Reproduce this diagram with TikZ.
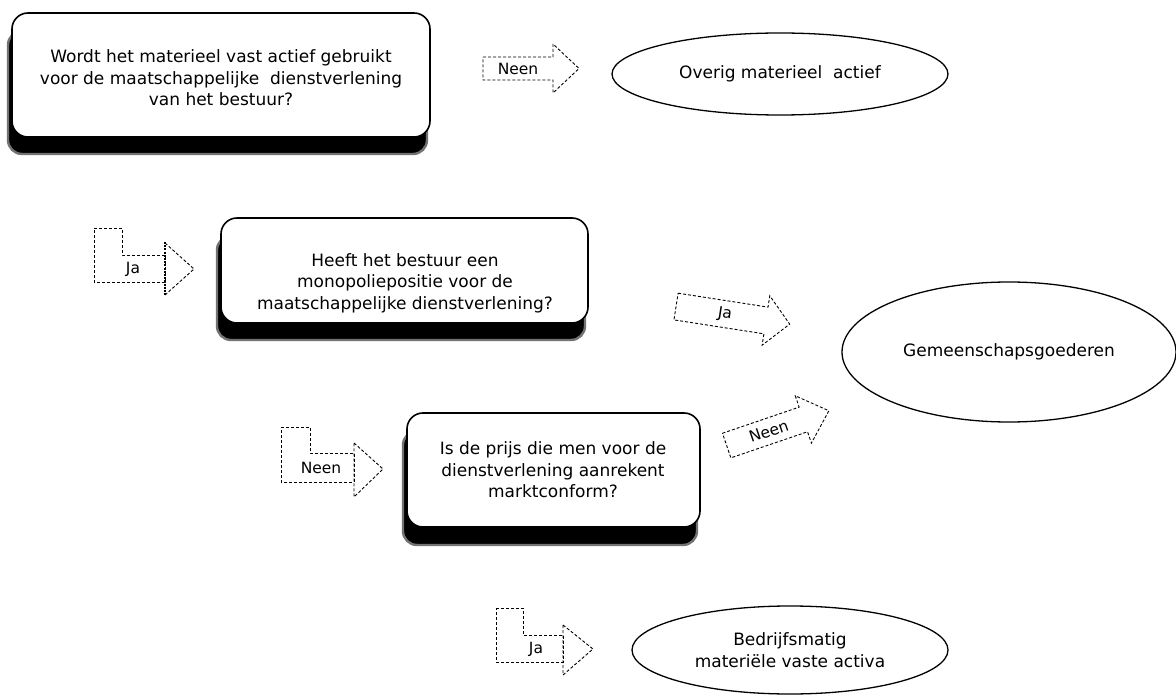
\documentclass[tikz,border=0pt]{standalone}
\usepackage{fontspec}
\setmainfont{DejaVu Sans}
\usetikzlibrary{shapes.geometric}
\begin{document}
\begin{tikzpicture}[x=1pt,y=-1pt,
  qbox/.style={draw, line width=1.6pt, rounded corners=16pt, fill=white},
  shade/.style={fill=black, draw=black!55, line width=2.4pt, rounded corners=14pt},
  oval/.style={draw, line width=1.3pt, ellipse, inner sep=0pt},
  barrow/.style={draw, line width=0.9pt, dash pattern=on 3pt off 2pt, line join=miter},
  txt/.style={font=\fontsize{17}{21.5}\selectfont, align=center, inner sep=0pt},
  lbl/.style={font=\fontsize{15.5}{18}\selectfont, inner sep=0pt},
]
\useasboundingbox (0,0) rectangle (1176,695);

% ---------- question box 1
\path[shade] (8,31) rectangle (427,154);
\draw[qbox] (12,13) rectangle (430,137);
\node[txt] (q1) at (221,78) {Wordt het materieel vast actief gebruikt\\voor de maatschappelijke\ \ dienstverlening\\van het bestuur?};

% Neen arrow 1
\draw[barrow] (483,57) -- (553,57) -- (553,44) -- (579,68.5) -- (553,93) -- (553,80) -- (483,80) -- cycle;
\node[lbl] (n1) at (518,68.5) {Neen};

% ellipse 1
\node[oval, minimum width=336pt, minimum height=82pt, font=\fontsize{17}{21.5}\selectfont] (e1) at (780,74) {Overig materieel\ \ actief};

% ---------- Ja L-arrow 1
\draw[barrow] (94,228) -- (122,228) -- (122,255) -- (165,255) -- (165,282) -- (94,282) -- cycle;
\draw[barrow] (165,243) -- (194,269) -- (165,295);
\draw[line width=2.2pt, dash pattern=on 2pt off 1.2pt] (165,242) -- (165,296);
\node[lbl] (j1) at (133,269) {Ja};

% question box 2
\path[shade] (217,236) rectangle (585,340);
\draw[qbox] (221,218) rectangle (588,323);
\node[txt] (q2) at (405,283) {Heeft het bestuur een\\monopoliepositie voor de\\maatschappelijke dienstverlening?};

% Ja diagonal arrow
\begin{scope}[shift={(721,313.5)}, rotate=-8.8]
\draw[barrow] (-45.5,-13.5) -- (45.5,-13.5) -- (45.5,-25) -- (69.5,0) -- (45.5,25) -- (45.5,13.5) -- (-45.5,13.5) -- cycle;
\node[lbl, transform shape] (j2) at (4,0) {Ja};
\end{scope}

% ellipse 2
\node[oval, minimum width=334pt, minimum height=140pt, font=\fontsize{17}{21.5}\selectfont] (e2) at (1009,352) {Gemeenschapsgoederen};

% ---------- Neen L-arrow
\draw[barrow] (281,427) -- (310,427) -- (310,453) -- (354,453) -- (354,482) -- (281,482) -- cycle;
\draw[barrow] (354,443) -- (383,469) -- (354,497) -- cycle;
\node[lbl] (n2) at (321,468) {Neen};

% question box 3
\path[shade] (403,431) rectangle (697,545);
\draw[qbox] (407,413) rectangle (700,527);
\node[txt] (q3) at (553,470) {Is de prijs die men voor de\\dienstverlening aanrekent\\marktconform?};

% Neen diagonal arrow
\begin{scope}[shift={(765,432.5)}, rotate=18.8]
\draw[barrow] (-40.5,-13) -- (40.5,-13) -- (40.5,-25) -- (67.5,0) -- (40.5,25) -- (40.5,13) -- (-40.5,13) -- cycle;
\node[lbl, transform shape] (n3) at (4,0) {Neen};
\end{scope}

% ---------- Ja L-arrow bottom
\draw[barrow] (496,608) -- (523,608) -- (523,635) -- (563,635) -- (563,662) -- (496,662) -- cycle;
\draw[barrow] (563,625) -- (593,649) -- (563,675) -- cycle;
\node[lbl] (j3) at (536,649) {Ja};

% ellipse 3
\node[oval, minimum width=316pt, minimum height=88pt, font=\fontsize{17}{21.5}\selectfont, align=center] (e3) at (790,650) {Bedrijfsmatig\\materiële vaste activa};
\end{tikzpicture}
\end{document}
